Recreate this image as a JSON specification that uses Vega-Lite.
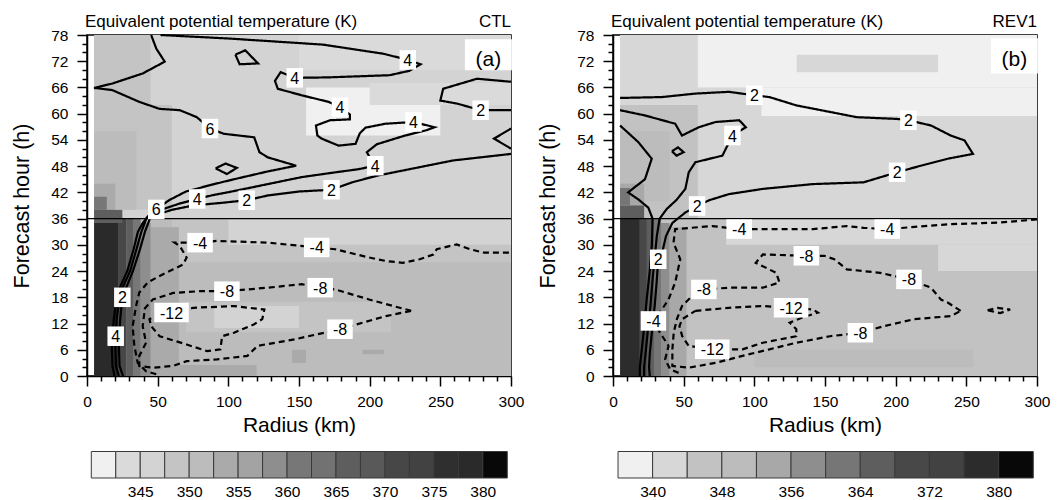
{
"$schema":"https://vega.github.io/schema/vega-lite/v6.json",
"padding":{"left":11,"top":12,"right":0,"bottom":0},
"background":"white",
"config":{"font":"Liberation Sans","view":{"stroke":"black","strokeWidth":1.5},
"axis":{"domainColor":"black","tickColor":"black","labelColor":"black","titleColor":"black","titleFontWeight":"normal","grid":false,"domainWidth":1.5,"tickWidth":1.5,"labelFont":"Liberation Sans","titleFont":"Liberation Sans"}},
"datasets":{
"field":[
{"p":"a","r0":5,"r1":300,"t0":36,"t1":78,"v":346},
{"p":"a","r0":150,"r1":300,"t0":70,"t1":78,"v":343},
{"p":"a","r0":5,"r1":45,"t0":62,"t1":78,"v":348},
{"p":"a","r0":5,"r1":60,"t0":38,"t1":62,"v":348},
{"p":"a","r0":5,"r1":35,"t0":38,"t1":56,"v":351},
{"p":"a","r0":5,"r1":20,"t0":36,"t1":44,"v":354},
{"p":"a","r0":155,"r1":250,"t0":55,"t1":66,"v":341},
{"p":"a","r0":200,"r1":300,"t0":62,"t1":67,"v":343},
{"p":"a","r0":5,"r1":300,"t0":0,"t1":36,"v":351},
{"p":"a","r0":60,"r1":300,"t0":26,"t1":36,"v":348},
{"p":"a","r0":100,"r1":300,"t0":30,"t1":36,"v":346},
{"p":"a","r0":70,"r1":215,"t0":10,"t1":17,"v":348},
{"p":"a","r0":90,"r1":150,"t0":11,"t1":16,"v":346},
{"p":"a","r0":45,"r1":120,"t0":0,"t1":2.5,"v":354},
{"p":"a","r0":145,"r1":155,"t0":3,"t1":6,"v":354},
{"p":"a","r0":195,"r1":210,"t0":5,"t1":6,"v":354},
{"p":"a","r0":45,"r1":65,"t0":0,"t1":34,"v":354},
{"p":"a","r0":38,"r1":45,"t0":0,"t1":35,"v":358},
{"p":"a","r0":33,"r1":38,"t0":0,"t1":36,"v":361},
{"p":"a","r0":28,"r1":33,"t0":0,"t1":36,"v":366},
{"p":"a","r0":22,"r1":28,"t0":0,"t1":36,"v":371},
{"p":"a","r0":5,"r1":22,"t0":0,"t1":35,"v":378},
{"p":"a","r0":5,"r1":25,"t0":35,"t1":38,"v":366},
{"p":"a","r0":5,"r1":14,"t0":38,"t1":41,"v":360},
{"p":"b","r0":5,"r1":300,"t0":36,"t1":78,"v":342},
{"p":"b","r0":5,"r1":60,"t0":36,"t1":62,"v":346},
{"p":"b","r0":5,"r1":40,"t0":40,"t1":56,"v":350},
{"p":"b","r0":5,"r1":22,"t0":36,"t1":44,"v":354},
{"p":"b","r0":60,"r1":300,"t0":66,"t1":78,"v":338},
{"p":"b","r0":130,"r1":230,"t0":69.5,"t1":73.5,"v":342},
{"p":"b","r0":105,"r1":300,"t0":59.5,"t1":66,"v":338},
{"p":"b","r0":5,"r1":300,"t0":0,"t1":36,"v":346},
{"p":"b","r0":80,"r1":300,"t0":30,"t1":36,"v":342},
{"p":"b","r0":230,"r1":300,"t0":24,"t1":30,"v":342},
{"p":"b","r0":100,"r1":255,"t0":2,"t1":6,"v":350},
{"p":"b","r0":40,"r1":52,"t0":0,"t1":34,"v":354},
{"p":"b","r0":34,"r1":40,"t0":0,"t1":35,"v":358},
{"p":"b","r0":29,"r1":34,"t0":0,"t1":36,"v":362},
{"p":"b","r0":24,"r1":29,"t0":0,"t1":36,"v":366},
{"p":"b","r0":19,"r1":24,"t0":0,"t1":36,"v":370},
{"p":"b","r0":5,"r1":19,"t0":0,"t1":36,"v":378},
{"p":"b","r0":5,"r1":22,"t0":36,"t1":39,"v":366},
{"p":"b","r0":5,"r1":12,"t0":39,"t1":43,"v":362}
],
"lines":[
{"p":"a","id":"a6","s":"solid","r":45.4,"t":78},{"p":"a","id":"a6","s":"solid","r":49,"t":74.9},{"p":"a","id":"a6","s":"solid","r":55,"t":71.9},{"p":"a","id":"a6","s":"solid","r":39.4,"t":69.2},{"p":"a","id":"a6","s":"solid","r":17.9,"t":66.9},{"p":"a","id":"a6","s":"solid","r":5,"t":65.9},{"p":"a","id":"a6","s":"solid","r":17.9,"t":65.4},{"p":"a","id":"a6","s":"solid","r":37,"t":62.7},{"p":"a","id":"a6","s":"solid","r":51.4,"t":61.1},{"p":"a","id":"a6","s":"solid","r":65.7,"t":60.8},{"p":"a","id":"a6","s":"solid","r":77.7,"t":59.2},{"p":"a","id":"a6","s":"solid","r":87,"t":56.6},{"p":"a","id":"a6","s":"solid","r":96.9,"t":55.4},{"p":"a","id":"a6","s":"solid","r":118.3,"t":54.6},{"p":"a","id":"a6","s":"solid","r":122,"t":51.2},{"p":"a","id":"a6","s":"solid","r":128,"t":50},{"p":"a","id":"a6","s":"solid","r":148,"t":48.1},{"p":"a","id":"a6","s":"solid","r":128,"t":46.8},{"p":"a","id":"a6","s":"solid","r":104,"t":45},{"p":"a","id":"a6","s":"solid","r":90,"t":43.9},{"p":"a","id":"a6","s":"solid","r":70,"t":42.2},{"p":"a","id":"a6","s":"solid","r":58,"t":40.2},{"p":"a","id":"a6","s":"solid","r":49,"t":38.1},{"p":"a","id":"a6","s":"solid","r":43,"t":36.5},{"p":"a","id":"a6","s":"solid","r":39.5,"t":35},{"p":"a","id":"a6","s":"solid","r":36,"t":33},{"p":"a","id":"a6","s":"solid","r":33,"t":29},{"p":"a","id":"a6","s":"solid","r":28.5,"t":24},{"p":"a","id":"a6","s":"solid","r":21.5,"t":19},{"p":"a","id":"a6","s":"solid","r":19,"t":13},{"p":"a","id":"a6","s":"solid","r":17.5,"t":7.6},{"p":"a","id":"a6","s":"solid","r":18,"t":2.3},{"p":"a","id":"a6","s":"solid","r":19.5,"t":0},
{"p":"a","id":"a4","s":"solid","r":52,"t":78},{"p":"a","id":"a4","s":"solid","r":100,"t":77.2},{"p":"a","id":"a4","s":"solid","r":167,"t":75.8},{"p":"a","id":"a4","s":"solid","r":210,"t":73.7},{"p":"a","id":"a4","s":"solid","r":227,"t":72.3},{"p":"a","id":"a4","s":"solid","r":236,"t":71.3},{"p":"a","id":"a4","s":"solid","r":228,"t":69.8},{"p":"a","id":"a4","s":"solid","r":214,"t":68.8},{"p":"a","id":"a4","s":"solid","r":170,"t":68.3},{"p":"a","id":"a4","s":"solid","r":147,"t":68.2},{"p":"a","id":"a4","s":"solid","r":137,"t":69.5},{"p":"a","id":"a4","s":"solid","r":133,"t":67.5},{"p":"a","id":"a4","s":"solid","r":135,"t":65.7},{"p":"a","id":"a4","s":"solid","r":152,"t":64.2},{"p":"a","id":"a4","s":"solid","r":171,"t":62.7},{"p":"a","id":"a4","s":"solid","r":179,"t":61.5},{"p":"a","id":"a4","s":"solid","r":186,"t":59.8},{"p":"a","id":"a4","s":"solid","r":186,"t":58.7},{"p":"a","id":"a4","s":"solid","r":172,"t":58.5},{"p":"a","id":"a4","s":"solid","r":162,"t":57.3},{"p":"a","id":"a4","s":"solid","r":163,"t":55},{"p":"a","id":"a4","s":"solid","r":166,"t":54.3},{"p":"a","id":"a4","s":"solid","r":178,"t":52.7},{"p":"a","id":"a4","s":"solid","r":190,"t":53.1},{"p":"a","id":"a4","s":"solid","r":193,"t":55.5},{"p":"a","id":"a4","s":"solid","r":197,"t":56.8},{"p":"a","id":"a4","s":"solid","r":211,"t":57.7},{"p":"a","id":"a4","s":"solid","r":231,"t":58.1},{"p":"a","id":"a4","s":"solid","r":246,"t":56.9},{"p":"a","id":"a4","s":"solid","r":240,"t":56.2},{"p":"a","id":"a4","s":"solid","r":225,"t":55},{"p":"a","id":"a4","s":"solid","r":205,"t":53},{"p":"a","id":"a4","s":"solid","r":198,"t":51.2},{"p":"a","id":"a4","s":"solid","r":201,"t":49.5},{"p":"a","id":"a4","s":"solid","r":204,"t":48.1},{"p":"a","id":"a4","s":"solid","r":192,"t":47.3},{"p":"a","id":"a4","s":"solid","r":176,"t":46.6},{"p":"a","id":"a4","s":"solid","r":152,"t":45.5},{"p":"a","id":"a4","s":"solid","r":128,"t":43.9},{"p":"a","id":"a4","s":"solid","r":104,"t":42.3},{"p":"a","id":"a4","s":"solid","r":88,"t":41.3},{"p":"a","id":"a4","s":"solid","r":78,"t":40.5},{"p":"a","id":"a4","s":"solid","r":66,"t":39.5},{"p":"a","id":"a4","s":"solid","r":55,"t":38.3},{"p":"a","id":"a4","s":"solid","r":47,"t":37.3},{"p":"a","id":"a4","s":"solid","r":42,"t":36},{"p":"a","id":"a4","s":"solid","r":38.5,"t":33},{"p":"a","id":"a4","s":"solid","r":35,"t":29},{"p":"a","id":"a4","s":"solid","r":30.5,"t":24},{"p":"a","id":"a4","s":"solid","r":23.5,"t":19},{"p":"a","id":"a4","s":"solid","r":21,"t":13},{"p":"a","id":"a4","s":"solid","r":20,"t":7.6},{"p":"a","id":"a4","s":"solid","r":20.5,"t":2.3},{"p":"a","id":"a4","s":"solid","r":22.5,"t":0},
{"p":"a","id":"a2","s":"solid","r":25.5,"t":0},{"p":"a","id":"a2","s":"solid","r":23,"t":2.3},{"p":"a","id":"a2","s":"solid","r":22.5,"t":7.6},{"p":"a","id":"a2","s":"solid","r":23.5,"t":13},{"p":"a","id":"a2","s":"solid","r":25,"t":18},{"p":"a","id":"a2","s":"solid","r":27.5,"t":20},{"p":"a","id":"a2","s":"solid","r":32.5,"t":24},{"p":"a","id":"a2","s":"solid","r":37.5,"t":29},{"p":"a","id":"a2","s":"solid","r":41,"t":33},{"p":"a","id":"a2","s":"solid","r":44.5,"t":36},{"p":"a","id":"a2","s":"solid","r":50,"t":37},{"p":"a","id":"a2","s":"solid","r":60,"t":38},{"p":"a","id":"a2","s":"solid","r":75,"t":39},{"p":"a","id":"a2","s":"solid","r":95,"t":39.6},{"p":"a","id":"a2","s":"solid","r":113,"t":40.2},{"p":"a","id":"a2","s":"solid","r":128,"t":41.3},{"p":"a","id":"a2","s":"solid","r":150,"t":42.2},{"p":"a","id":"a2","s":"solid","r":173,"t":42.6},{"p":"a","id":"a2","s":"solid","r":187.6,"t":44.3},{"p":"a","id":"a2","s":"solid","r":205,"t":45.8},{"p":"a","id":"a2","s":"solid","r":223.5,"t":47},{"p":"a","id":"a2","s":"solid","r":259,"t":49.3},{"p":"a","id":"a2","s":"solid","r":300,"t":50.8},
{"p":"a","id":"a2r","s":"solid","r":300,"t":67.3},{"p":"a","id":"a2r","s":"solid","r":276,"t":68},{"p":"a","id":"a2r","s":"solid","r":252,"t":65.7},{"p":"a","id":"a2r","s":"solid","r":250,"t":63},{"p":"a","id":"a2r","s":"solid","r":262,"t":62.3},{"p":"a","id":"a2r","s":"solid","r":278.5,"t":60.8},{"p":"a","id":"a2r","s":"solid","r":300,"t":60.8},
{"p":"a","id":"a2s","s":"solid","r":300,"t":56.6},{"p":"a","id":"a2s","s":"solid","r":288,"t":54.3},{"p":"a","id":"a2s","s":"solid","r":300,"t":52},
{"p":"a","id":"alp","s":"solid","r":91,"t":47.5},{"p":"a","id":"alp","s":"solid","r":98,"t":48.6},{"p":"a","id":"alp","s":"solid","r":106,"t":47.6},{"p":"a","id":"alp","s":"solid","r":99,"t":46.2},{"p":"a","id":"alp","s":"solid","r":91,"t":47.5},
{"p":"a","id":"atr","s":"solid","r":105,"t":73.5},{"p":"a","id":"atr","s":"solid","r":112,"t":74.5},{"p":"a","id":"atr","s":"solid","r":121,"t":71.5},{"p":"a","id":"atr","s":"solid","r":108,"t":71.3},{"p":"a","id":"atr","s":"solid","r":105,"t":73.5},
{"p":"a","id":"am4","s":"dash","r":49,"t":0.4},{"p":"a","id":"am4","s":"dash","r":41.8,"t":1.1},{"p":"a","id":"am4","s":"dash","r":35.9,"t":3},{"p":"a","id":"am4","s":"dash","r":33.5,"t":6.9},{"p":"a","id":"am4","s":"dash","r":32.3,"t":11.4},{"p":"a","id":"am4","s":"dash","r":34.7,"t":16},{"p":"a","id":"am4","s":"dash","r":37,"t":19.1},{"p":"a","id":"am4","s":"dash","r":43,"t":21.4},{"p":"a","id":"am4","s":"dash","r":51.4,"t":22.9},{"p":"a","id":"am4","s":"dash","r":61,"t":24.4},{"p":"a","id":"am4","s":"dash","r":68,"t":25.5},{"p":"a","id":"am4","s":"dash","r":70.5,"t":27.1},{"p":"a","id":"am4","s":"dash","r":65.7,"t":29.7},{"p":"a","id":"am4","s":"dash","r":62,"t":30.5},{"p":"a","id":"am4","s":"dash","r":80,"t":30.5},{"p":"a","id":"am4","s":"dash","r":92,"t":30.9},{"p":"a","id":"am4","s":"dash","r":128,"t":30.5},{"p":"a","id":"am4","s":"dash","r":162.5,"t":29.4},{"p":"a","id":"am4","s":"dash","r":175.7,"t":29},{"p":"a","id":"am4","s":"dash","r":199.6,"t":27.1},{"p":"a","id":"am4","s":"dash","r":211.5,"t":26.3},{"p":"a","id":"am4","s":"dash","r":223.5,"t":25.9},{"p":"a","id":"am4","s":"dash","r":235.4,"t":26.7},{"p":"a","id":"am4","s":"dash","r":245,"t":27.8},{"p":"a","id":"am4","s":"dash","r":247.5,"t":29},{"p":"a","id":"am4","s":"dash","r":261.5,"t":30.1},{"p":"a","id":"am4","s":"dash","r":271,"t":29},{"p":"a","id":"am4","s":"dash","r":281,"t":28.2},{"p":"a","id":"am4","s":"dash","r":300,"t":28.2},
{"p":"a","id":"am8","s":"dash","r":229.4,"t":14.9},{"p":"a","id":"am8","s":"dash","r":199.6,"t":17.5},{"p":"a","id":"am8","s":"dash","r":175.7,"t":19.8},{"p":"a","id":"am8","s":"dash","r":165,"t":20.2},{"p":"a","id":"am8","s":"dash","r":151.8,"t":21},{"p":"a","id":"am8","s":"dash","r":128,"t":20.2},{"p":"a","id":"am8","s":"dash","r":99,"t":19.4},{"p":"a","id":"am8","s":"dash","r":80,"t":19.4},{"p":"a","id":"am8","s":"dash","r":61,"t":19},{"p":"a","id":"am8","s":"dash","r":46.6,"t":17.5},{"p":"a","id":"am8","s":"dash","r":41,"t":15.5},{"p":"a","id":"am8","s":"dash","r":39.4,"t":11.4},{"p":"a","id":"am8","s":"dash","r":41.8,"t":7.6},{"p":"a","id":"am8","s":"dash","r":37,"t":4.6},{"p":"a","id":"am8","s":"dash","r":37,"t":2.3},{"p":"a","id":"am8","s":"dash","r":46.6,"t":1.9},{"p":"a","id":"am8","s":"dash","r":61,"t":2.3},{"p":"a","id":"am8","s":"dash","r":70.5,"t":3.4},{"p":"a","id":"am8","s":"dash","r":92,"t":3.8},{"p":"a","id":"am8","s":"dash","r":113.5,"t":4.6},{"p":"a","id":"am8","s":"dash","r":120.7,"t":6.9},{"p":"a","id":"am8","s":"dash","r":147,"t":8.4},{"p":"a","id":"am8","s":"dash","r":179,"t":10.7},{"p":"a","id":"am8","s":"dash","r":195,"t":12.2},{"p":"a","id":"am8","s":"dash","r":211.5,"t":13.7},{"p":"a","id":"am8","s":"dash","r":229.4,"t":14.9},
{"p":"a","id":"am12","s":"dash","r":59.8,"t":14.5},{"p":"a","id":"am12","s":"dash","r":75.3,"t":15.6},{"p":"a","id":"am12","s":"dash","r":104,"t":16},{"p":"a","id":"am12","s":"dash","r":125.5,"t":15.2},{"p":"a","id":"am12","s":"dash","r":124,"t":13},{"p":"a","id":"am12","s":"dash","r":118,"t":11.8},{"p":"a","id":"am12","s":"dash","r":104,"t":9.9},{"p":"a","id":"am12","s":"dash","r":95.6,"t":9.1},{"p":"a","id":"am12","s":"dash","r":94.4,"t":6.1},{"p":"a","id":"am12","s":"dash","r":85,"t":5.7},{"p":"a","id":"am12","s":"dash","r":70.5,"t":7.2},{"p":"a","id":"am12","s":"dash","r":51.4,"t":9.1},{"p":"a","id":"am12","s":"dash","r":45.4,"t":11.4},{"p":"a","id":"am12","s":"dash","r":44.2,"t":13},{"p":"a","id":"am12","s":"dash","r":49,"t":13.7},{"p":"a","id":"am12","s":"dash","r":59.8,"t":14.5},
{"p":"b","id":"b2","s":"solid","r":5,"t":63.6},{"p":"b","id":"b2","s":"solid","r":34.5,"t":63.8},{"p":"b","id":"b2","s":"solid","r":58.3,"t":64.6},{"p":"b","id":"b2","s":"solid","r":82,"t":65},{"p":"b","id":"b2","s":"solid","r":100,"t":64.2},{"p":"b","id":"b2","s":"solid","r":110.7,"t":63.8},{"p":"b","id":"b2","s":"solid","r":129.7,"t":61.9},{"p":"b","id":"b2","s":"solid","r":153.5,"t":60.4},{"p":"b","id":"b2","s":"solid","r":172.5,"t":59.2},{"p":"b","id":"b2","s":"solid","r":201,"t":58.8},{"p":"b","id":"b2","s":"solid","r":209,"t":58.5},{"p":"b","id":"b2","s":"solid","r":225,"t":57.3},{"p":"b","id":"b2","s":"solid","r":239,"t":55},{"p":"b","id":"b2","s":"solid","r":248.7,"t":53.9},{"p":"b","id":"b2","s":"solid","r":254.7,"t":50.8},{"p":"b","id":"b2","s":"solid","r":236.8,"t":49.7},{"p":"b","id":"b2","s":"solid","r":217.8,"t":48.1},{"p":"b","id":"b2","s":"solid","r":201,"t":46.6},{"p":"b","id":"b2","s":"solid","r":177.3,"t":44.3},{"p":"b","id":"b2","s":"solid","r":141.6,"t":43.9},{"p":"b","id":"b2","s":"solid","r":106,"t":42.8},{"p":"b","id":"b2","s":"solid","r":82,"t":41.6},{"p":"b","id":"b2","s":"solid","r":68,"t":40.2},{"p":"b","id":"b2","s":"solid","r":59.5,"t":38.9},{"p":"b","id":"b2","s":"solid","r":51.2,"t":37.4},{"p":"b","id":"b2","s":"solid","r":42,"t":35},{"p":"b","id":"b2","s":"solid","r":37.5,"t":32},{"p":"b","id":"b2","s":"solid","r":35,"t":28.5},{"p":"b","id":"b2","s":"solid","r":32,"t":26.7},{"p":"b","id":"b2","s":"solid","r":31,"t":22},{"p":"b","id":"b2","s":"solid","r":29.5,"t":16},{"p":"b","id":"b2","s":"solid","r":27.5,"t":10},{"p":"b","id":"b2","s":"solid","r":26,"t":5},{"p":"b","id":"b2","s":"solid","r":25.5,"t":2},{"p":"b","id":"b2","s":"solid","r":26,"t":0},
{"p":"b","id":"b4","s":"solid","r":5,"t":60.8},{"p":"b","id":"b4","s":"solid","r":22.6,"t":59.6},{"p":"b","id":"b4","s":"solid","r":44,"t":57.7},{"p":"b","id":"b4","s":"solid","r":48.8,"t":55},{"p":"b","id":"b4","s":"solid","r":60.7,"t":56.9},{"p":"b","id":"b4","s":"solid","r":72.6,"t":58.1},{"p":"b","id":"b4","s":"solid","r":89.3,"t":58.5},{"p":"b","id":"b4","s":"solid","r":94,"t":56.9},{"p":"b","id":"b4","s":"solid","r":84.5,"t":55},{"p":"b","id":"b4","s":"solid","r":77.4,"t":50.4},{"p":"b","id":"b4","s":"solid","r":58.3,"t":48.9},{"p":"b","id":"b4","s":"solid","r":53.6,"t":46.6},{"p":"b","id":"b4","s":"solid","r":51.2,"t":42.8},{"p":"b","id":"b4","s":"solid","r":45,"t":40.3},{"p":"b","id":"b4","s":"solid","r":38,"t":38.2},{"p":"b","id":"b4","s":"solid","r":33,"t":36},{"p":"b","id":"b4","s":"solid","r":31,"t":32},{"p":"b","id":"b4","s":"solid","r":29.5,"t":27},{"p":"b","id":"b4","s":"solid","r":28,"t":22},{"p":"b","id":"b4","s":"solid","r":26.5,"t":16},{"p":"b","id":"b4","s":"solid","r":24.5,"t":10},{"p":"b","id":"b4","s":"solid","r":23,"t":5},{"p":"b","id":"b4","s":"solid","r":22,"t":2},{"p":"b","id":"b4","s":"solid","r":22,"t":0},
{"p":"b","id":"b3","s":"solid","r":5,"t":57.3},{"p":"b","id":"b3","s":"solid","r":17.9,"t":53.5},{"p":"b","id":"b3","s":"solid","r":27.4,"t":49.7},{"p":"b","id":"b3","s":"solid","r":22.6,"t":45},{"p":"b","id":"b3","s":"solid","r":10.7,"t":42},{"p":"b","id":"b3","s":"solid","r":17.9,"t":40.4},{"p":"b","id":"b3","s":"solid","r":25,"t":38.5},{"p":"b","id":"b3","s":"solid","r":28,"t":36},{"p":"b","id":"b3","s":"solid","r":27.5,"t":30},{"p":"b","id":"b3","s":"solid","r":26,"t":24},{"p":"b","id":"b3","s":"solid","r":24,"t":18},{"p":"b","id":"b3","s":"solid","r":22,"t":11},{"p":"b","id":"b3","s":"solid","r":20,"t":5},{"p":"b","id":"b3","s":"solid","r":19,"t":2},{"p":"b","id":"b3","s":"solid","r":19,"t":0},
{"p":"b","id":"blp","s":"solid","r":41.7,"t":51.4},{"p":"b","id":"blp","s":"solid","r":46,"t":52.3},{"p":"b","id":"blp","s":"solid","r":50,"t":51.2},{"p":"b","id":"blp","s":"solid","r":45,"t":50.4},{"p":"b","id":"blp","s":"solid","r":41.7,"t":51.4},
{"p":"b","id":"bm4","s":"dash","r":300,"t":35.8},{"p":"b","id":"bm4","s":"dash","r":272.5,"t":35.1},{"p":"b","id":"bm4","s":"dash","r":236.8,"t":34.7},{"p":"b","id":"bm4","s":"dash","r":194,"t":33.6},{"p":"b","id":"bm4","s":"dash","r":177.3,"t":33.9},{"p":"b","id":"bm4","s":"dash","r":165.4,"t":34.3},{"p":"b","id":"bm4","s":"dash","r":141.6,"t":33.6},{"p":"b","id":"bm4","s":"dash","r":106,"t":33.6},{"p":"b","id":"bm4","s":"dash","r":89.3,"t":33.6},{"p":"b","id":"bm4","s":"dash","r":70.2,"t":34.3},{"p":"b","id":"bm4","s":"dash","r":44,"t":33.6},{"p":"b","id":"bm4","s":"dash","r":42.8,"t":30.5},{"p":"b","id":"bm4","s":"dash","r":47.6,"t":26.7},{"p":"b","id":"bm4","s":"dash","r":44,"t":21.4},{"p":"b","id":"bm4","s":"dash","r":39.3,"t":17.5},{"p":"b","id":"bm4","s":"dash","r":34.5,"t":15.2},{"p":"b","id":"bm4","s":"dash","r":28.6,"t":12.6},{"p":"b","id":"bm4","s":"dash","r":33.3,"t":9.9},{"p":"b","id":"bm4","s":"dash","r":39.3,"t":6.9},{"p":"b","id":"bm4","s":"dash","r":36.9,"t":3.8},{"p":"b","id":"bm4","s":"dash","r":40.5,"t":1.5},{"p":"b","id":"bm4","s":"dash","r":48.8,"t":0.4},
{"p":"b","id":"bm8","s":"dash","r":246,"t":14.9},{"p":"b","id":"bm8","s":"dash","r":236.8,"t":16.8},{"p":"b","id":"bm8","s":"dash","r":232,"t":17.5},{"p":"b","id":"bm8","s":"dash","r":225,"t":20.2},{"p":"b","id":"bm8","s":"dash","r":209.4,"t":22.1},{"p":"b","id":"bm8","s":"dash","r":189,"t":23.6},{"p":"b","id":"bm8","s":"dash","r":165.4,"t":24.4},{"p":"b","id":"bm8","s":"dash","r":156.6,"t":26.7},{"p":"b","id":"bm8","s":"dash","r":149.4,"t":27.5},{"p":"b","id":"bm8","s":"dash","r":136.8,"t":27.5},{"p":"b","id":"bm8","s":"dash","r":106,"t":27.8},{"p":"b","id":"bm8","s":"dash","r":101,"t":25.9},{"p":"b","id":"bm8","s":"dash","r":115.4,"t":23.6},{"p":"b","id":"bm8","s":"dash","r":117.8,"t":21.4},{"p":"b","id":"bm8","s":"dash","r":106,"t":20.2},{"p":"b","id":"bm8","s":"dash","r":82,"t":20.2},{"p":"b","id":"bm8","s":"dash","r":64.3,"t":19.8},{"p":"b","id":"bm8","s":"dash","r":56,"t":18.3},{"p":"b","id":"bm8","s":"dash","r":48.8,"t":16},{"p":"b","id":"bm8","s":"dash","r":45.2,"t":13},{"p":"b","id":"bm8","s":"dash","r":43,"t":10},{"p":"b","id":"bm8","s":"dash","r":42,"t":6.1},{"p":"b","id":"bm8","s":"dash","r":42,"t":2.3},{"p":"b","id":"bm8","s":"dash","r":53.5,"t":1.9},{"p":"b","id":"bm8","s":"dash","r":72.6,"t":3},{"p":"b","id":"bm8","s":"dash","r":91.6,"t":4.6},{"p":"b","id":"bm8","s":"dash","r":110.7,"t":6.1},{"p":"b","id":"bm8","s":"dash","r":129.7,"t":7.6},{"p":"b","id":"bm8","s":"dash","r":153.5,"t":9.1},{"p":"b","id":"bm8","s":"dash","r":175,"t":9.9},{"p":"b","id":"bm8","s":"dash","r":191.6,"t":11.4},{"p":"b","id":"bm8","s":"dash","r":213,"t":13},{"p":"b","id":"bm8","s":"dash","r":239,"t":13.7},{"p":"b","id":"bm8","s":"dash","r":246,"t":14.9},
{"p":"b","id":"bm12","s":"dash","r":58.3,"t":14.9},{"p":"b","id":"bm12","s":"dash","r":82,"t":15.6},{"p":"b","id":"bm12","s":"dash","r":106,"t":16},{"p":"b","id":"bm12","s":"dash","r":126,"t":15.6},{"p":"b","id":"bm12","s":"dash","r":141.6,"t":15.2},{"p":"b","id":"bm12","s":"dash","r":145,"t":14.5},{"p":"b","id":"bm12","s":"dash","r":135,"t":13.5},{"p":"b","id":"bm12","s":"dash","r":125,"t":12.2},{"p":"b","id":"bm12","s":"dash","r":129.7,"t":10.7},{"p":"b","id":"bm12","s":"dash","r":129.7,"t":9.1},{"p":"b","id":"bm12","s":"dash","r":106,"t":7.6},{"p":"b","id":"bm12","s":"dash","r":91.6,"t":6.1},{"p":"b","id":"bm12","s":"dash","r":70.2,"t":6.1},{"p":"b","id":"bm12","s":"dash","r":53.5,"t":6.9},{"p":"b","id":"bm12","s":"dash","r":49,"t":9.1},{"p":"b","id":"bm12","s":"dash","r":47,"t":11.4},{"p":"b","id":"bm12","s":"dash","r":49,"t":13},{"p":"b","id":"bm12","s":"dash","r":58.3,"t":14.9},
{"p":"b","id":"bsm","s":"dash","r":265,"t":15},{"p":"b","id":"bsm","s":"dash","r":272,"t":15.6},{"p":"b","id":"bsm","s":"dash","r":281,"t":15.2},{"p":"b","id":"bsm","s":"dash","r":274,"t":14.4},{"p":"b","id":"bsm","s":"dash","r":265,"t":15}
],
"labels":[
{"p":"a","txt":"4","r":227,"t":72.3},{"p":"a","txt":"4","r":147,"t":68.2},{"p":"a","txt":"4","r":179,"t":61.5},{"p":"a","txt":"6","r":87,"t":56.6},{"p":"a","txt":"4","r":231,"t":58.1},{"p":"a","txt":"2","r":278.5,"t":60.8},{"p":"a","txt":"4","r":204,"t":48.1},{"p":"a","txt":"2","r":173,"t":42.6},{"p":"a","txt":"6","r":49,"t":38.1},{"p":"a","txt":"4","r":78,"t":40.5},{"p":"a","txt":"2","r":113,"t":40.2},{"p":"a","txt":"2","r":25,"t":18},{"p":"a","txt":"4","r":20.3,"t":9.1},{"p":"a","txt":"-4","r":80,"t":30.5},{"p":"a","txt":"-4","r":162.5,"t":29.4},{"p":"a","txt":"-8","r":99,"t":19.4},{"p":"a","txt":"-8","r":165,"t":20.2},{"p":"a","txt":"-8","r":179,"t":10.7},{"p":"a","txt":"-12","r":59.8,"t":14.5},
{"p":"b","txt":"2","r":100,"t":64.2},{"p":"b","txt":"2","r":209,"t":58.5},{"p":"b","txt":"4","r":84.5,"t":55},{"p":"b","txt":"2","r":201,"t":46.6},{"p":"b","txt":"2","r":59.5,"t":38.9},{"p":"b","txt":"2","r":32,"t":26.7},{"p":"b","txt":"-4","r":89.3,"t":33.6},{"p":"b","txt":"-4","r":194,"t":33.6},{"p":"b","txt":"-4","r":28.6,"t":12.6},{"p":"b","txt":"-8","r":136.8,"t":27.5},{"p":"b","txt":"-8","r":209.4,"t":22.1},{"p":"b","txt":"-8","r":64.3,"t":19.8},{"p":"b","txt":"-8","r":175,"t":9.9},{"p":"b","txt":"-12","r":126,"t":15.6},{"p":"b","txt":"-12","r":70.2,"t":6.1}
],
"tags":[{"p":"a","txt":"(a)","hdr":"CTL","r":284,"t":72.3,"tb":73.5},{"p":"b","txt":"(b)","hdr":"REV1","r":284,"t":72.3,"tb":73.2}],
"cbar":[
{"p":"a","lo":340,"hi":342.5,"v":341.25},{"p":"a","lo":342.5,"hi":345,"v":343.75},{"p":"a","lo":345,"hi":347.5,"v":346.25},{"p":"a","lo":347.5,"hi":350,"v":348.75},{"p":"a","lo":350,"hi":352.5,"v":351.25},{"p":"a","lo":352.5,"hi":355,"v":353.75},{"p":"a","lo":355,"hi":357.5,"v":356.25},{"p":"a","lo":357.5,"hi":360,"v":358.75},{"p":"a","lo":360,"hi":362.5,"v":361.25},{"p":"a","lo":362.5,"hi":365,"v":363.75},{"p":"a","lo":365,"hi":367.5,"v":366.25},{"p":"a","lo":367.5,"hi":370,"v":368.75},{"p":"a","lo":370,"hi":372.5,"v":371.25},{"p":"a","lo":372.5,"hi":375,"v":373.75},{"p":"a","lo":375,"hi":377.5,"v":376.25},{"p":"a","lo":377.5,"hi":380,"v":378.75},{"p":"a","lo":380,"hi":382.5,"v":381.25},
{"p":"b","lo":336,"hi":340,"v":338},{"p":"b","lo":340,"hi":344,"v":342},{"p":"b","lo":344,"hi":348,"v":346},{"p":"b","lo":348,"hi":352,"v":350},{"p":"b","lo":352,"hi":356,"v":354},{"p":"b","lo":356,"hi":360,"v":358},{"p":"b","lo":360,"hi":364,"v":362},{"p":"b","lo":364,"hi":368,"v":366},{"p":"b","lo":368,"hi":372,"v":370},{"p":"b","lo":372,"hi":376,"v":374},{"p":"b","lo":376,"hi":380,"v":378},{"p":"b","lo":380,"hi":384,"v":382}
]
},
"columns":2,
"spacing":{"row":75.5,"column":102},
"bounds":"flush",
"resolve":{"scale":{"color":"independent","strokeDash":"independent","shape":"independent"}},
"concat":[
{"width":424,"height":341,
"resolve":{"axis":{"x":"independent","y":"independent"}},
"layer":[
{"data":{"name":"field"},"transform":[{"filter":"datum.p==='a'"}],"mark":{"type":"rect","strokeWidth":0},
"encoding":{
"x":{"field":"r0","type":"quantitative","title":"Radius (km)","scale":{"domain":[0,300],"nice":false,"zero":false},"axis":{"orient":"bottom","values":[0,50,100,150,200,250,300],"tickSize":10,"labelPadding":8,"labelFontSize":15.5,"labelFlush":false,"titleFontSize":21,"titlePadding":5}},
"x2":{"field":"r1"},
"y":{"field":"t0","type":"quantitative","title":"Forecast hour (h)","scale":{"domain":[0,78],"nice":false,"zero":false},"axis":{"orient":"left","values":[0,6,12,18,24,30,36,42,48,54,60,66,72,78],"tickSize":10,"labelPadding":9,"labelFontSize":15.5,"labelFlush":false,"titleFontSize":21.5,"titlePadding":17}},
"y2":{"field":"t1"},
"color":{"field":"v","type":"quantitative","scale":{"type":"threshold","domain":[342.5,345,347.5,350,352.5,355,357.5,360,362.5,365,367.5,370,372.5,375,377.5,380],"range":["#f0f0f0","#dadada","#d3d3d3","#c4c4c4","#bcbcbc","#aaaaaa","#a3a3a3","#8e8e8e","#777777","#727272","#5e5e5e","#595959","#474747","#424242","#2f2f2f","#2a2a2a","#080808"]},"legend":null}}},
{"data":{"values":[{}]},"mark":{"type":"rule","color":"black","strokeWidth":1.3},"encoding":{"y":{"datum":36,"type":"quantitative","axis":null}}},
{"data":{"name":"lines"},"transform":[{"filter":"datum.p==='a'"}],"mark":{"type":"line","color":"black","strokeWidth":2.2},"encoding":{"x":{"field":"r","type":"quantitative","axis":{"orient":"bottom","values":[10,20,30,40,60,70,80,90,110,120,130,140,160,170,180,190,210,220,230,240,260,270,280,290],"labels":false,"tickSize":5,"domain":false,"title":null}},"y":{"field":"t","type":"quantitative","axis":{"orient":"left","values":[2,4,8,10,14,16,20,22,26,28,32,34,38,40,44,46,50,52,56,58,62,64,68,70,74,76],"labels":false,"tickSize":5,"domain":false,"title":null}},"detail":{"field":"id","type":"nominal"},"order":{"value":null},"strokeDash":{"field":"s","type":"nominal","scale":{"domain":["solid","dash"],"range":[[1,0],[6,4]]},"legend":null}}},
{"data":{"name":"labels"},"transform":[{"filter":"datum.p==='a'"}],"mark":{"type":"point","filled":true,"color":"white","fill":"white","opacity":1,"strokeWidth":0},"encoding":{"x":{"field":"r","type":"quantitative","axis":null},"y":{"field":"t","type":"quantitative","axis":null},"shape":{"condition":[{"test":"length(datum.txt) === 1","value":"M-0.55,-0.65H0.55V0.65H-0.55Z"},{"test":"length(datum.txt) === 2","value":"M-0.85,-0.65H0.85V0.65H-0.85Z"}],"value":"M-1.15,-0.65H1.15V0.65H-1.15Z"},"size":{"value":900}}},
{"data":{"name":"labels"},"transform":[{"filter":"datum.p==='a'"}],"mark":{"type":"text","fontSize":16,"color":"black","baseline":"middle","align":"center","dy":1},"encoding":{"x":{"field":"r","type":"quantitative","axis":null},"y":{"field":"t","type":"quantitative","axis":null},"text":{"field":"txt"}}},
{"data":{"name":"tags"},"transform":[{"filter":"datum.p==='a'"}],"mark":{"type":"point","filled":true,"color":"white","fill":"white","opacity":1,"strokeWidth":0,"shape":"M-1,-0.66H1V0.66H-1Z","size":2209},"encoding":{"x":{"field":"r","type":"quantitative","axis":null},"y":{"field":"tb","type":"quantitative","axis":null}}},
{"data":{"name":"tags"},"transform":[{"filter":"datum.p==='a'"}],"mark":{"type":"text","fontSize":21,"color":"black","baseline":"middle","align":"center"},"encoding":{"x":{"field":"r","type":"quantitative","axis":null},"y":{"field":"t","type":"quantitative","axis":null},"text":{"field":"txt"}}},
{"data":{"name":"tags"},"transform":[{"filter":"datum.p==='a'"}],"mark":{"type":"text","fontSize":17,"color":"black","baseline":"middle","align":"right","dy":-13},"encoding":{"x":{"datum":300,"type":"quantitative","axis":null},"y":{"datum":78,"type":"quantitative","axis":null},"text":{"field":"hdr"}}},
{"data":{"name":"tags"},"transform":[{"filter":"datum.p==='a'"}],"mark":{"type":"text","fontSize":17,"color":"black","baseline":"middle","align":"left","dy":-13,"dx":-2},"encoding":{"x":{"datum":0,"type":"quantitative","axis":null},"y":{"datum":78,"type":"quantitative","axis":null},"text":{"value":"Equivalent potential temperature (K)"}}}
]},
{"width":424,"height":341,
"resolve":{"axis":{"x":"independent","y":"independent"}},
"layer":[
{"data":{"name":"field"},"transform":[{"filter":"datum.p==='b'"}],"mark":{"type":"rect","strokeWidth":0},
"encoding":{
"x":{"field":"r0","type":"quantitative","title":"Radius (km)","scale":{"domain":[0,300],"nice":false,"zero":false},"axis":{"orient":"bottom","values":[0,50,100,150,200,250,300],"tickSize":10,"labelPadding":8,"labelFontSize":15.5,"labelFlush":false,"titleFontSize":21,"titlePadding":5}},
"x2":{"field":"r1"},
"y":{"field":"t0","type":"quantitative","title":"Forecast hour (h)","scale":{"domain":[0,78],"nice":false,"zero":false},"axis":{"orient":"left","values":[0,6,12,18,24,30,36,42,48,54,60,66,72,78],"tickSize":10,"labelPadding":9,"labelFontSize":15.5,"labelFlush":false,"titleFontSize":21.5,"titlePadding":17}},
"y2":{"field":"t1"},
"color":{"field":"v","type":"quantitative","scale":{"type":"threshold","domain":[340,344,348,352,356,360,364,368,372,376,380],"range":["#f0f0f0","#d7d7d7","#c2c2c2","#bcbcbc","#a8a8a8","#8e8e8e","#767676","#5e5e5e","#484848","#424242","#2c2c2c","#080808"]},"legend":null}}},
{"data":{"values":[{}]},"mark":{"type":"rule","color":"black","strokeWidth":1.3},"encoding":{"y":{"datum":36,"type":"quantitative","axis":null}}},
{"data":{"name":"lines"},"transform":[{"filter":"datum.p==='b'"}],"mark":{"type":"line","color":"black","strokeWidth":2.2},"encoding":{"x":{"field":"r","type":"quantitative","axis":{"orient":"bottom","values":[10,20,30,40,60,70,80,90,110,120,130,140,160,170,180,190,210,220,230,240,260,270,280,290],"labels":false,"tickSize":5,"domain":false,"title":null}},"y":{"field":"t","type":"quantitative","axis":{"orient":"left","values":[2,4,8,10,14,16,20,22,26,28,32,34,38,40,44,46,50,52,56,58,62,64,68,70,74,76],"labels":false,"tickSize":5,"domain":false,"title":null}},"detail":{"field":"id","type":"nominal"},"order":{"value":null},"strokeDash":{"field":"s","type":"nominal","scale":{"domain":["solid","dash"],"range":[[1,0],[6,4]]},"legend":null}}},
{"data":{"name":"labels"},"transform":[{"filter":"datum.p==='b'"}],"mark":{"type":"point","filled":true,"color":"white","fill":"white","opacity":1,"strokeWidth":0},"encoding":{"x":{"field":"r","type":"quantitative","axis":null},"y":{"field":"t","type":"quantitative","axis":null},"shape":{"condition":[{"test":"length(datum.txt) === 1","value":"M-0.55,-0.65H0.55V0.65H-0.55Z"},{"test":"length(datum.txt) === 2","value":"M-0.85,-0.65H0.85V0.65H-0.85Z"}],"value":"M-1.15,-0.65H1.15V0.65H-1.15Z"},"size":{"value":900}}},
{"data":{"name":"labels"},"transform":[{"filter":"datum.p==='b'"}],"mark":{"type":"text","fontSize":16,"color":"black","baseline":"middle","align":"center","dy":1},"encoding":{"x":{"field":"r","type":"quantitative","axis":null},"y":{"field":"t","type":"quantitative","axis":null},"text":{"field":"txt"}}},
{"data":{"name":"tags"},"transform":[{"filter":"datum.p==='b'"}],"mark":{"type":"point","filled":true,"color":"white","fill":"white","opacity":1,"strokeWidth":0,"shape":"M-1,-0.75H1V0.75H-1Z","size":2209},"encoding":{"x":{"field":"r","type":"quantitative","axis":null},"y":{"field":"tb","type":"quantitative","axis":null}}},
{"data":{"name":"tags"},"transform":[{"filter":"datum.p==='b'"}],"mark":{"type":"text","fontSize":21,"color":"black","baseline":"middle","align":"center"},"encoding":{"x":{"field":"r","type":"quantitative","axis":null},"y":{"field":"t","type":"quantitative","axis":null},"text":{"field":"txt"}}},
{"data":{"name":"tags"},"transform":[{"filter":"datum.p==='b'"}],"mark":{"type":"text","fontSize":17,"color":"black","baseline":"middle","align":"right","dy":-13},"encoding":{"x":{"datum":300,"type":"quantitative","axis":null},"y":{"datum":78,"type":"quantitative","axis":null},"text":{"field":"hdr"}}},
{"data":{"name":"tags"},"transform":[{"filter":"datum.p==='b'"}],"mark":{"type":"text","fontSize":17,"color":"black","baseline":"middle","align":"left","dy":-13,"dx":-2},"encoding":{"x":{"datum":0,"type":"quantitative","axis":null},"y":{"datum":78,"type":"quantitative","axis":null},"text":{"value":"Equivalent potential temperature (K)"}}}
]},
{"width":424,"height":26.5,"view":{"stroke":null},"data":{"name":"cbar"},"transform":[{"filter":"datum.p==='a'"}],"mark":{"type":"rect","stroke":"#3a3a3a","strokeWidth":1},
"encoding":{"x":{"field":"lo","type":"quantitative","title":null,"scale":{"domain":[339.56,382.88],"nice":false,"zero":false},"axis":{"values":[345,350,355,360,365,370,375,380],"ticks":false,"domain":false,"labelPadding":6,"labelFontSize":15.5,"labelFlush":false,"labelOverlap":false}},"x2":{"field":"hi"},
"color":{"field":"v","type":"quantitative","scale":{"type":"threshold","domain":[342.5,345,347.5,350,352.5,355,357.5,360,362.5,365,367.5,370,372.5,375,377.5,380],"range":["#f0f0f0","#dadada","#d3d3d3","#c4c4c4","#bcbcbc","#aaaaaa","#a3a3a3","#8e8e8e","#777777","#727272","#5e5e5e","#595959","#474747","#424242","#2f2f2f","#2a2a2a","#080808"]},"legend":null}}},
{"width":424,"height":26.5,"view":{"stroke":null},"data":{"name":"cbar"},"transform":[{"filter":"datum.p==='b'"}],"mark":{"type":"rect","stroke":"#3a3a3a","strokeWidth":1},
"encoding":{"x":{"field":"lo","type":"quantitative","title":null,"scale":{"domain":[335.42,384.43],"nice":false,"zero":false},"axis":{"values":[340,348,356,364,372,380],"ticks":false,"domain":false,"labelPadding":6,"labelFontSize":15.5,"labelFlush":false,"labelOverlap":false}},"x2":{"field":"hi"},
"color":{"field":"v","type":"quantitative","scale":{"type":"threshold","domain":[340,344,348,352,356,360,364,368,372,376,380],"range":["#f0f0f0","#d7d7d7","#c2c2c2","#bcbcbc","#a8a8a8","#8e8e8e","#767676","#5e5e5e","#484848","#424242","#2c2c2c","#080808"]},"legend":null}}}
]
}
